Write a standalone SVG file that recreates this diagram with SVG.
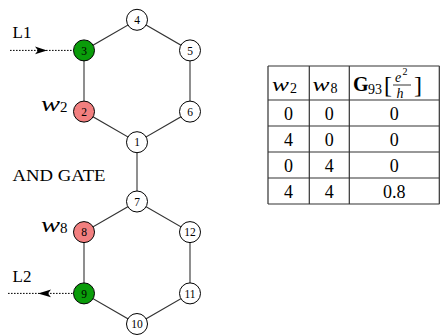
<svg xmlns="http://www.w3.org/2000/svg" width="440" height="335" viewBox="0 0 440 335">
<style>
.edge{stroke:#333;stroke-width:1.1;fill:none}
.dot{stroke:#000;stroke-width:1;stroke-dasharray:1.6 1.4;fill:none}
.head{fill:#000;stroke:none}
.node circle{stroke:#000;stroke-width:1;fill:#fff}
.node.g circle{fill:#0a9c0a}
.node.r circle{fill:#f27f7f}
.node text{font-size:11.5px;text-anchor:middle;fill:#000}
.mi{font-style:italic}
.tl{stroke:#333;stroke-width:1.2}
.td{font-size:18px;text-anchor:middle}
</style>
<g id="connectors">
<path class="edge" d="M137 19.8 L190 50.4 L190 111.6 L137 142.2 L84 111.6 L84 50.4 Z"/>
<path class="edge" d="M137 142.2 L137 201.5"/>
<path class="edge" d="M137 201.5 L190 232.1 L190 293.4 L137 324 L84 293.4 L84 232.1 Z"/>
<path class="dot" d="M10 50.4 L73.5 50.4"/>
<path class="head" d="M47 50.4 L35 46.6 L38 50.4 L35 54.2 Z"/>
<path class="dot" d="M8 293.4 L73.5 293.4"/>
<path class="head" d="M38 293.4 L51 289.6 L48 293.4 L51 297.2 Z"/>
</g>
<g font-family="'Liberation Serif', serif" fill="#000">
<g id="n1" class="node"><circle cx="137" cy="142.2" r="10.5"/><text x="137" y="146.3">1</text></g>
<g id="n2" class="node r"><circle cx="84" cy="111.6" r="10.5"/><text x="84" y="115.7">2</text></g>
<g id="n3" class="node g"><circle cx="84" cy="50.4" r="10.5"/><text x="84" y="54.5">3</text></g>
<g id="n4" class="node"><circle cx="137" cy="19.8" r="10.5"/><text x="137" y="23.9">4</text></g>
<g id="n5" class="node"><circle cx="190" cy="50.4" r="10.5"/><text x="190" y="54.5">5</text></g>
<g id="n6" class="node"><circle cx="190" cy="111.6" r="10.5"/><text x="190" y="115.7">6</text></g>
<g id="n7" class="node"><circle cx="137" cy="201.5" r="10.5"/><text x="137" y="205.6">7</text></g>
<g id="n8" class="node r"><circle cx="84" cy="232.1" r="10.5"/><text x="84" y="236.2">8</text></g>
<g id="n9" class="node g"><circle cx="84" cy="293.4" r="10.5"/><text x="84" y="297.5">9</text></g>
<g id="n10" class="node"><circle cx="137" cy="324" r="10.5"/><text x="137" y="328.1">10</text></g>
<g id="n11" class="node"><circle cx="190" cy="293.4" r="10.5"/><text x="190" y="297.5">11</text></g>
<g id="n12" class="node"><circle cx="190" cy="232.1" r="10.5"/><text x="190" y="236.2">12</text></g>
<g id="labels">
<text x="12.5" y="37.5" font-size="17">L1</text>
<text x="12.5" y="281.5" font-size="17">L2</text>
<text x="12.5" y="180.5" font-size="17" textLength="93" lengthAdjust="spacingAndGlyphs">AND GATE</text>
<text class="mi" x="41" y="110.5" font-size="21" textLength="19" lengthAdjust="spacingAndGlyphs">w</text><text x="60" y="112" font-size="15">2</text>
<text class="mi" x="41" y="231.5" font-size="21" textLength="19" lengthAdjust="spacingAndGlyphs">w</text><text x="60" y="233" font-size="15">8</text>
</g>
<g id="table">
<path class="tl" d="M268 66 H439.5 M268 100 H439.5 M268 126 H439.5 M268 152 H439.5 M268 178 H439.5 M268 204 H439.5 M268 66 V204 M309.3 66 V204 M349.3 66 V204 M439.3 66 V204"/>
<text class="mi" x="272" y="91" font-size="19" textLength="17" lengthAdjust="spacingAndGlyphs">w</text><text x="290" y="93" font-size="14">2</text>
<text class="mi" x="312.5" y="91" font-size="19" textLength="17" lengthAdjust="spacingAndGlyphs">w</text><text x="330.5" y="93" font-size="14">8</text>
<text x="353" y="91" font-size="20" font-weight="bold">G</text>
<text x="368" y="94" font-size="14">93</text>
<text x="384" y="93" font-size="24">[</text>
<text class="mi" x="395" y="82" font-size="14">e</text><text x="402.5" y="75" font-size="10">2</text>
<path d="M393 85 H411" stroke="#000" stroke-width="0.8"/>
<text class="mi" x="396.5" y="98" font-size="14">h</text>
<text x="414" y="93" font-size="24">]</text>
<text class="td" x="288.6" y="120">0</text><text class="td" x="329.3" y="120">0</text><text class="td" x="394.3" y="120">0</text>
<text class="td" x="288.6" y="146">4</text><text class="td" x="329.3" y="146">0</text><text class="td" x="394.3" y="146">0</text>
<text class="td" x="288.6" y="172">0</text><text class="td" x="329.3" y="172">4</text><text class="td" x="394.3" y="172">0</text>
<text class="td" x="288.6" y="198">4</text><text class="td" x="329.3" y="198">4</text><text class="td" x="394.3" y="198">0.8</text>
</g>
</g>
</svg>
